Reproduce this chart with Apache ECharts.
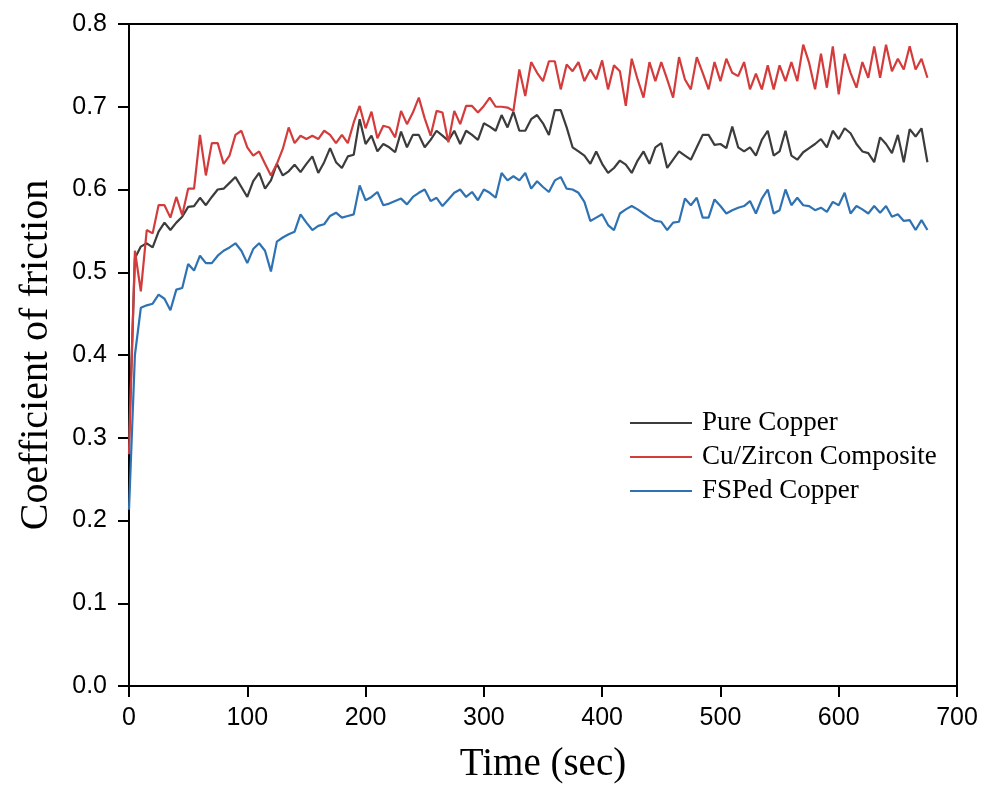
<!DOCTYPE html>
<html>
<head>
<meta charset="utf-8">
<script src="https://cdn.jsdelivr.net/npm/echarts@6/dist/echarts.min.js"></script>
<style>
html,body{margin:0;padding:0;background:#fff;}
#chart{width:983px;height:789px;}
</style>
</head>
<body>
<div id="chart"></div>
<script>
var seriesNames = ['Pure Copper', 'Cu/Zircon Composite', 'FSPed Copper'];

var time = [0,5,10,15,20,25,30,35,40,45,50,55,60,65,70,75,80,85,90,95,
100,105,110,115,120,125,130,135,140,145,150,155,160,165,170,175,180,185,190,195,
200,205,210,215,220,225,230,235,240,245,250,255,260,265,270,275,280,285,290,295,
300,305,310,315,320,325,330,335,340,345,350,355,360,365,370,375,380,385,390,395,
400,405,410,415,420,425,430,435,440,445,450,455,460,465,470,475,480,485,490,495,
500,505,510,515,520,525,530,535,540,545,550,555,560,565,570,575,580,585,590,595,
600,605,610,615,620,625,630,635,640,645,650,655,660,665,670,675];

var pureCopper = [0.300,0.517,0.531,0.535,0.530,0.549,0.560,0.551,0.560,0.567,
0.579,0.580,0.590,0.581,0.591,0.600,0.601,0.608,0.615,0.603,
0.591,0.610,0.620,0.601,0.611,0.631,0.617,0.622,0.630,0.621,
0.631,0.640,0.620,0.633,0.650,0.633,0.626,0.640,0.642,0.685,
0.655,0.665,0.646,0.655,0.651,0.645,0.670,0.651,0.666,0.666,
0.651,0.660,0.671,0.665,0.659,0.671,0.655,0.671,0.666,0.660,
0.680,0.676,0.671,0.690,0.675,0.694,0.671,0.671,0.685,0.690,
0.680,0.666,0.696,0.696,0.675,0.651,0.646,0.641,0.631,0.646,
0.631,0.620,0.626,0.635,0.630,0.620,0.635,0.646,0.631,0.651,
0.656,0.626,0.636,0.646,0.641,0.636,0.651,0.666,0.666,0.654,
0.655,0.650,0.676,0.651,0.646,0.651,0.641,0.660,0.671,0.641,
0.646,0.671,0.641,0.636,0.645,0.650,0.655,0.661,0.651,0.671,
0.661,0.674,0.668,0.655,0.646,0.644,0.633,0.663,0.655,0.644,
0.666,0.633,0.673,0.664,0.674,0.633];

var cuZircon = [0.280,0.526,0.477,0.551,0.547,0.581,0.581,0.566,0.591,0.569,
0.601,0.601,0.666,0.617,0.656,0.656,0.631,0.641,0.666,0.671,
0.651,0.641,0.646,0.631,0.617,0.631,0.649,0.675,0.656,0.665,
0.661,0.665,0.661,0.671,0.666,0.656,0.666,0.656,0.681,0.701,
0.674,0.694,0.662,0.677,0.675,0.663,0.695,0.679,0.693,0.711,
0.686,0.665,0.695,0.693,0.657,0.695,0.679,0.701,0.701,0.693,
0.701,0.711,0.700,0.700,0.699,0.695,0.745,0.713,0.754,0.741,
0.731,0.755,0.755,0.721,0.751,0.743,0.754,0.731,0.745,0.733,
0.756,0.721,0.750,0.743,0.701,0.758,0.733,0.711,0.754,0.731,
0.754,0.733,0.711,0.760,0.733,0.721,0.760,0.741,0.721,0.754,
0.731,0.758,0.741,0.737,0.754,0.721,0.740,0.721,0.750,0.721,
0.750,0.731,0.754,0.731,0.775,0.753,0.721,0.764,0.723,0.773,
0.715,0.764,0.741,0.723,0.754,0.735,0.773,0.735,0.775,0.743,
0.758,0.745,0.773,0.745,0.758,0.735];

var fspedCopper = [0.213,0.400,0.457,0.460,0.462,0.473,0.468,0.454,0.479,0.481,
0.510,0.502,0.520,0.511,0.511,0.520,0.526,0.530,0.535,0.526,
0.511,0.528,0.535,0.526,0.501,0.537,0.542,0.546,0.549,0.570,
0.560,0.551,0.556,0.558,0.568,0.572,0.566,0.568,0.570,0.605,
0.587,0.591,0.597,0.581,0.583,0.586,0.589,0.582,0.591,0.596,
0.600,0.586,0.590,0.580,0.588,0.596,0.600,0.591,0.597,0.587,
0.600,0.596,0.590,0.620,0.611,0.616,0.611,0.620,0.601,0.610,
0.603,0.597,0.611,0.615,0.601,0.600,0.596,0.585,0.562,0.566,
0.570,0.557,0.551,0.571,0.576,0.580,0.576,0.571,0.566,0.562,
0.561,0.551,0.560,0.561,0.589,0.581,0.590,0.566,0.566,0.588,
0.580,0.571,0.575,0.578,0.580,0.586,0.571,0.589,0.600,0.571,
0.575,0.600,0.581,0.590,0.581,0.580,0.575,0.578,0.573,0.585,
0.581,0.596,0.571,0.580,0.576,0.571,0.580,0.572,0.580,0.567,
0.570,0.562,0.563,0.551,0.563,0.551];

var xTicks = [0,100,200,300,400,500,600,700];
var yTicks = [0.0,0.1,0.2,0.3,0.4,0.5,0.6,0.7,0.8];
var colors = ['#3c3c3c', '#d43c3c', '#2f72b3'];

function pairs(vals){ return time.map(function(t,i){ return [t, vals[i]]; }); }

var chart = echarts.init(document.getElementById('chart'), null, {renderer:'canvas'});
var serif = "'Times New Roman', 'Liberation Serif', serif";
var sans = "Arial, 'Liberation Sans', sans-serif";

chart.setOption({
  animation:false,
  backgroundColor:'#fff',
  grid:{left:129, right:26, top:24, bottom:98, show:true, borderColor:'#000', borderWidth:2, backgroundColor:'transparent'},
  xAxis:{
    type:'value', min:xTicks[0], max:xTicks[xTicks.length-1], interval:100,
    name:'Time (sec)', nameLocation:'middle', nameGap:59,
    nameTextStyle:{fontFamily:serif, fontSize:39, color:'#000'},
    axisLine:{show:true, onZero:false, lineStyle:{color:'#000', width:2}},
    axisTick:{show:true, inside:false, length:11, lineStyle:{color:'#000', width:2}},
    axisLabel:{fontFamily:sans, fontSize:25, color:'#000', margin:20},
    splitLine:{show:false}
  },
  yAxis:{
    type:'value', min:yTicks[0], max:yTicks[yTicks.length-1], interval:0.1,
    name:'Coefficient of friction', nameLocation:'middle', nameGap:73,
    nameTextStyle:{fontFamily:serif, fontSize:40, color:'#000'},
    axisLine:{show:true, onZero:false, lineStyle:{color:'#000', width:2}},
    axisTick:{show:true, inside:false, length:11, lineStyle:{color:'#000', width:2}},
    axisLabel:{fontFamily:sans, fontSize:25, color:'#000', margin:22, formatter:function(v){return v.toFixed(1);}},
    splitLine:{show:false}
  },
  legend:{
    orient:'vertical', left:630, top:409, padding:0,
    icon:'rect', itemWidth:62, itemHeight:2, itemGap:6,
    data:seriesNames,
    textStyle:{fontFamily:serif, fontSize:27, color:'#000', lineHeight:28, padding:[0,0,0,5]}
  },
  series:[
    {name:seriesNames[0], type:'line', data:pairs(pureCopper), symbol:'none', color:colors[0], lineStyle:{width:2.2, color:colors[0]}},
    {name:seriesNames[1], type:'line', data:pairs(cuZircon), symbol:'none', color:colors[1], lineStyle:{width:2.2, color:colors[1]}},
    {name:seriesNames[2], type:'line', data:pairs(fspedCopper), symbol:'none', color:colors[2], lineStyle:{width:2.2, color:colors[2]}}
  ]
});
</script>
</body>
</html>
